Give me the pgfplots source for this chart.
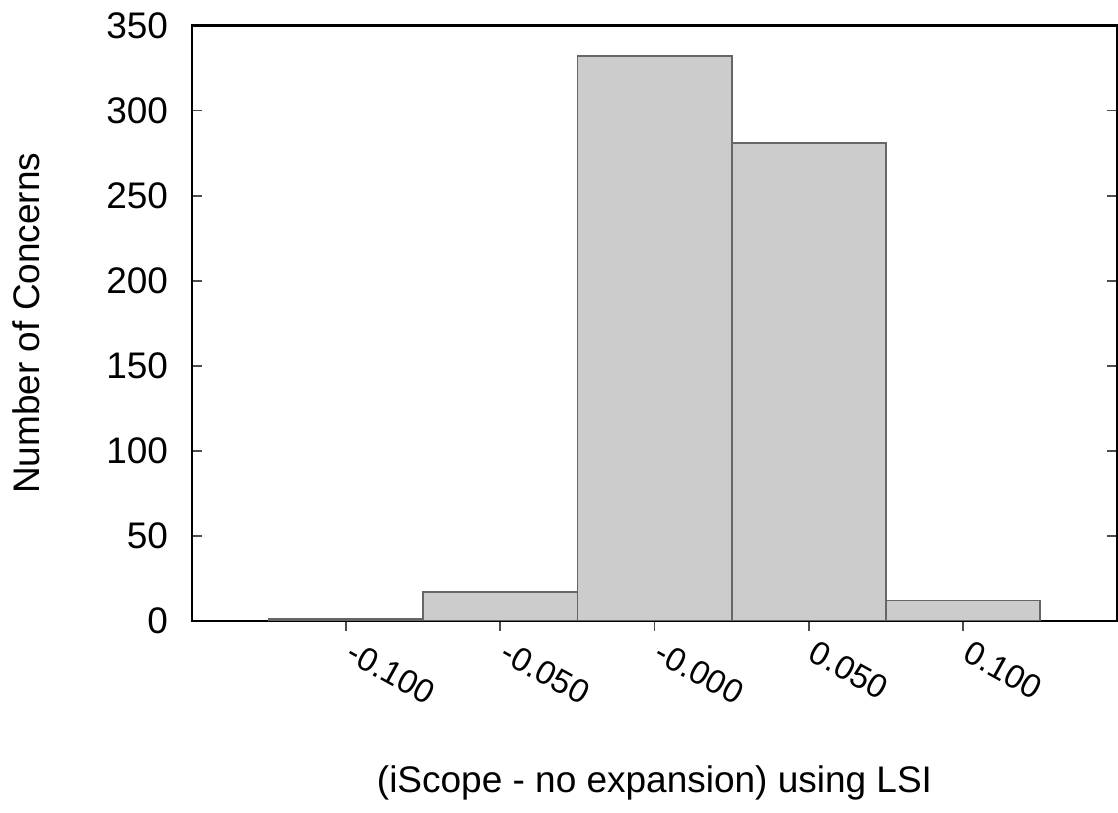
\documentclass[border=0pt]{standalone}
\usepackage{fontspec}
\setmainfont{Liberation Sans}
\usepackage{pgfplots}
\pgfplotsset{compat=1.18}
\begin{document}
\begin{tikzpicture}
\begin{axis}[
  scale only axis,width=250pt,height=161pt,
  xmin=-0.15,xmax=0.15,ymin=0,ymax=350,
  ytick={0,50,...,350},
  xtick={-0.1,-0.05,0,0.05,0.1},
  xticklabels={-0.100,-0.050,-0.000,0.050,0.100},
  xtick pos=bottom,ytick pos=both,tick align=inside,
  major tick length=2.7pt,
  tick style={black!70,line width=0.5pt},
  axis line style={line width=0.6pt},
  font=\fontsize{10}{12}\selectfont,
  /pgf/number format/assume math mode=true,
  yticklabel style={xshift=-3pt},
  xticklabel style={font=\fontsize{9}{11}\selectfont,xshift=2.5pt,yshift=-2pt,rotate=-29,anchor=north west,inner sep=0pt},
  xlabel={(iScope - no expansion) using LSI},
  ylabel={Number of Concerns},
  every axis x label/.style={at={(axis description cs:0.5,-0.221)},anchor=north},
  every axis y label/.style={at={(axis description cs:-0.151,0.5)},rotate=90,anchor=south},
  ybar,bar width=0.05,bar shift=0pt,
]
\addplot[fill=black!20,draw=black!60,line width=0.5pt] coordinates {(-0.1,1) (-0.05,17) (0,332) (0.05,281) (0.1,12)};
\end{axis}
\end{tikzpicture}
\end{document}
